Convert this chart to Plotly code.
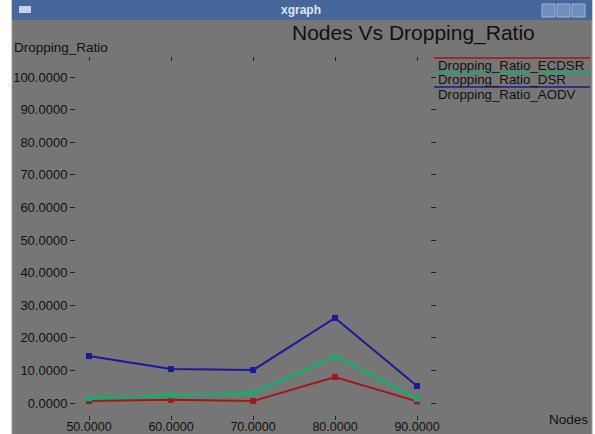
import plotly.graph_objects as go

# ---- data ----
nodes = [50, 60, 70, 80, 90]
ecdsr = [0.6, 1.0, 0.6, 8.0, 0.5]
dsr = [1.5, 2.4, 3.0, 14.4, 1.3]
aodv = [14.4, 10.4, 10.1, 26.1, 5.2]
series_names = ["Dropping_Ratio_ECDSR", "Dropping_Ratio_DSR", "Dropping_Ratio_AODV"]
series_colors = ["#a01818", "#1fa86a", "#1a1a96"]
y_ticks = [0, 10, 20, 30, 40, 50, 60, 70, 80, 90, 100]

W, H = 595, 434
L, R, T, B = 76, 165, 62, 19
PW, PH = W - L - R, H - T - B
BG = "#767676"
FONT = "Liberation Sans, Arial, sans-serif"


def px(x):
    return (x - L) / PW


def py(y):
    return 1 - (y - T) / PH


fig = go.Figure()
for vals, name, col, lw in zip([ecdsr, dsr, aodv], series_names, series_colors, [2, 3, 2]):
    fig.add_trace(go.Scatter(
        x=nodes, y=vals, mode="lines+markers", name=name,
        line=dict(color=col, width=lw),
        marker=dict(color=col, size=6, symbol="square"),
        showlegend=False,
    ))

shapes = [
    # window frame
    dict(type="rect", xref="paper", yref="paper", x0=px(12), x1=px(592), y0=py(0), y1=py(436),
         fillcolor=BG, line=dict(color="#9a9a9a", width=1), layer="below"),
    # title bar
    dict(type="rect", xref="paper", yref="paper", x0=px(12), x1=px(592), y0=py(0), y1=py(20),
         fillcolor="#45679c", line=dict(width=0), layer="below"),
    dict(type="rect", xref="paper", yref="paper", x0=px(19), x1=px(31), y0=py(6), y1=py(13),
         fillcolor="#c8d2e6", line=dict(width=0), layer="below"),
]
for bx in [542, 557, 572]:
    shapes.append(dict(type="rect", xref="paper", yref="paper", x0=px(bx), x1=px(bx + 13),
                       y0=py(4), y1=py(17), fillcolor="#6f8dbd",
                       line=dict(color="#9fb4d6", width=1), layer="below"))

annotations = [
    dict(text="<b>xgraph</b>", x=px(301), y=py(10), xref="paper", yref="paper", showarrow=False,
         font=dict(family=FONT, size=12, color="#dfe6f2"), xanchor="center", yanchor="middle"),
    dict(text="Nodes Vs Dropping_Ratio", x=px(290), y=py(33), xref="paper", yref="paper",
         showarrow=False, font=dict(family=FONT, size=21, color="#111111"),
         xanchor="left", yanchor="middle"),
    dict(text="Dropping_Ratio", x=px(12), y=py(47), xref="paper", yref="paper", showarrow=False,
         font=dict(family=FONT, size=13.5, color="#111111"), xanchor="left", yanchor="middle"),
    dict(text="Nodes", x=px(590), y=py(420), xref="paper", yref="paper", showarrow=False,
         font=dict(family=FONT, size=13.5, color="#111111"), xanchor="right", yanchor="middle"),
]
# legend (xgraph style: coloured line above label)
for i, (name, col) in enumerate(zip(series_names, series_colors)):
    ly = 58 + i * 14.5
    shapes.append(dict(type="line", xref="paper", yref="paper", x0=px(434), x1=px(590),
                       y0=py(ly), y1=py(ly), line=dict(color=col, width=1.5)))
    annotations.append(dict(text=name, x=px(436), y=py(ly + 7), xref="paper", yref="paper",
                            showarrow=False, font=dict(family=FONT, size=13.3, color="#111111"),
                            xanchor="left", yanchor="middle"))

fig.update_layout(
    width=W, height=H,
    margin=dict(l=L, r=R, t=T, b=B),
    paper_bgcolor="white", plot_bgcolor=BG,
    shapes=shapes, annotations=annotations,
    showlegend=False,
    xaxis=dict(range=[50 - 13 / 8.2, 90 + 13 / 8.2], tickvals=nodes, tickformat=".4f",
               automargin=False,
               showgrid=False, zeroline=False, showline=True, linecolor=BG, mirror="ticks",
               ticks="outside", ticklen=4, tickcolor="#222222", ticklabelstandoff=-4,
               tickfont=dict(family=FONT, size=12.5, color="#111111")),
    yaxis=dict(range=[-3.68, 104.6], tickvals=y_ticks, tickformat=".4f",
               automargin=False,
               showgrid=False, zeroline=False, showline=True, linecolor=BG, mirror="ticks",
               ticks="outside", ticklen=5, tickcolor="#222222",
               tickfont=dict(family=FONT, size=13, color="#111111")),
)

fig.write_html("out.html", config={"displayModeBar": False},
               post_script="document.body.style.margin='0';document.body.style.overflow='hidden';")
